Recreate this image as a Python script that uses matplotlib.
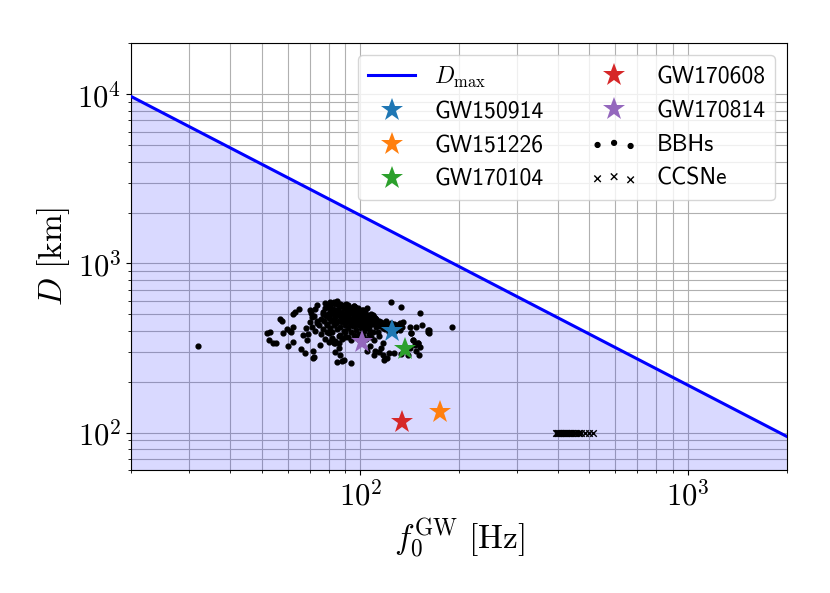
import matplotlib
matplotlib.use("Agg")
import matplotlib.pyplot as plt
from matplotlib import ticker
import numpy as np

plt.rcParams['mathtext.fontset'] = 'cm'

# D_max line end points (straight in log-log)
dmax_f = [20, 2000]
dmax_d = [9.7e3, 95]

# detected events (f0 [Hz], D [km])
event_names = ['GW150914', 'GW151226', 'GW170104', 'GW170608', 'GW170814']
event_f = [125, 175, 137, 134, 101]
event_d = [400, 133, 312, 116, 343]
event_colors = ['tab:blue', 'tab:orange', 'tab:green', 'tab:red', 'tab:purple']

# simulated BBH population
bbh_f = [32,
         51.8, 53, 52.5, 54, 55.5, 57, 57.5, 58, 59.8, 61, 61.5, 62.5, 63.4, 62.5, 60, 62.5,
         65, 66, 67, 68, 68.5, 69, 69.5, 70, 70.5, 71, 71.5, 72, 71.5, 73, 74, 75.5, 77,
         77.5, 79, 80, 81, 82, 83, 84, 85, 86, 89, 90,
         76, 77, 78, 78.5, 79, 79.5, 80, 80.5, 81, 81, 81.5, 82, 82, 82.5, 83, 83, 83.5,
         84, 84, 84.5, 85, 85, 85.5, 86, 86, 86.5, 87, 87, 87.5, 88, 88, 88.5, 89, 89,
         89.5, 90, 90, 90.5, 91, 91, 91.5, 92, 92, 92.5, 93, 93, 93.5, 94, 94, 94.5, 95,
         95, 95.5, 96, 96, 96.5, 97, 97, 97.5, 98, 98, 98.5, 99, 99, 99.5, 100, 100, 100.5,
         101, 101, 102, 102, 102.5, 103, 103, 104, 104, 104.5, 105, 105, 106, 106, 107,
         107, 108, 108, 109, 109, 110, 110, 111, 112, 112, 113, 114, 115, 116, 118, 119,
         120, 121, 122, 124, 125, 127, 128, 130, 132, 134,
         70, 71, 72, 73, 74, 75, 76, 77, 78, 79, 80, 82, 84, 86, 88, 90, 92, 94, 96, 98,
         100, 102, 104, 106, 108, 110,
         124.5, 133, 152, 191, 162, 162, 154.5, 147.5, 141.5, 135, 143, 145, 146.5, 150,
         152, 148, 151, 141.5, 140, 133, 127, 122.5, 121, 118.5, 117.4, 114, 111, 117, 114,
         113, 109, 111, 114, 117.4, 107, 103.5, 102, 98.5, 96.4, 94, 88, 87, 86, 84, 104.5,
         107, 132, 129, 110, 116, 160.6, 160.6, 145, 150, 143,
         74, 78, 83, 87, 92, 96, 81, 85, 90]
bbh_d = [325,
         387, 394, 354, 338, 340, 470, 455, 387, 410, 400, 392, 420, 520, 505, 324, 342,
         535, 313, 380, 296, 415, 354, 384, 530, 508, 486, 305, 280, 275, 535, 445, 330, 505,
         460, 430, 387, 560, 354, 340, 300, 263, 340, 270, 366,
         470, 520, 545, 490, 440, 505, 560, 475, 415, 530, 455, 500, 395, 540, 470, 430, 515,
         575, 485, 445, 410, 530, 500, 460, 555, 420, 490, 380, 520, 450, 565, 475, 400, 540,
         505, 430, 470, 580, 495, 455, 525, 415, 485, 550, 440, 510, 470, 395, 535, 460, 500,
         425, 560, 480, 445, 515, 405, 470, 540, 490, 430, 455, 520, 385, 475, 445, 500, 415,
         530, 465, 490, 435, 400, 515, 455, 475, 420, 545, 440, 495, 460, 410, 480,
         430, 505, 450, 470, 395, 440, 485, 455, 420, 470, 440, 460, 425, 450, 440, 410,
         455, 430, 395, 445, 420, 440, 400, 430, 445, 420,
         450, 420, 490, 400, 460, 430, 385, 410, 360, 395, 345, 365, 350, 375, 360, 395,
         370, 355, 380, 365, 350, 375, 360, 385, 370, 355,
         590, 551, 513, 420, 402, 390, 430, 420, 420, 454, 387, 354, 331, 338,
         320, 302, 289, 316, 289, 292, 296, 296, 276, 270, 289, 298, 305, 338, 371,
         396, 497, 475, 434, 414, 445, 464, 531, 545, 556, 258, 264, 289, 316, 338, 302,
         324, 405, 434, 289, 316, 405, 395, 354, 338, 387,
         570, 585, 590, 578, 572, 560, 595, 600, 565]

# simulated core-collapse supernovae
ccsn_f = [395, 398, 400, 402, 405, 407, 410, 412, 415, 418, 420, 423, 425, 428, 430,
          433, 436, 440, 443, 447, 451, 455, 460, 465, 472, 484, 497, 511]
ccsn_d = [100] * len(ccsn_f)

fig, ax = plt.subplots(figsize=(8.3, 5.93), dpi=100)
fig.subplots_adjust(left=0.158, right=0.948, bottom=0.207, top=0.927)

ax.plot(dmax_f, dmax_d, color='blue', lw=2.2, label=r'$D_{\rm max}$', zorder=3)
ax.fill_between(dmax_f, dmax_d, 1, color='blue', alpha=0.15, lw=0, zorder=2)

for name, f, d, c in zip(event_names, event_f, event_d, event_colors):
    ax.plot(f, d, '*', color=c, ms=17, mew=0, label=name, zorder=5)

ax.scatter(bbh_f, bbh_d, s=12, color='black', label='BBHs', zorder=4)
ax.scatter(ccsn_f, ccsn_d, s=22, marker='x', color='black', lw=1.0, label='CCSNe', zorder=4)

ax.set_xscale('log')
ax.set_yscale('log')
ax.set_xlim(20, 2000)
ax.set_ylim(60, 2e4)
ax.grid(which='both', color='#b0b0b0', lw=0.8)

fmt = ticker.FuncFormatter(lambda v, p: r'$10^{%d}$' % round(np.log10(v)))
for axis in (ax.xaxis, ax.yaxis):
    axis.set_major_formatter(fmt)
    axis.set_minor_formatter(ticker.NullFormatter())
ax.tick_params(labelsize=22)

ax.set_xlabel(r'$f_0^{\rm GW}\ [\mathrm{Hz}]$', fontsize=24)
ax.set_ylabel(r'$D\ [\mathrm{km}]$', fontsize=24)

ax.legend(loc='upper right', ncol=2, scatterpoints=3,
          prop={'family': 'cmss10', 'size': 17})

fig.savefig('out.png', dpi=100)
